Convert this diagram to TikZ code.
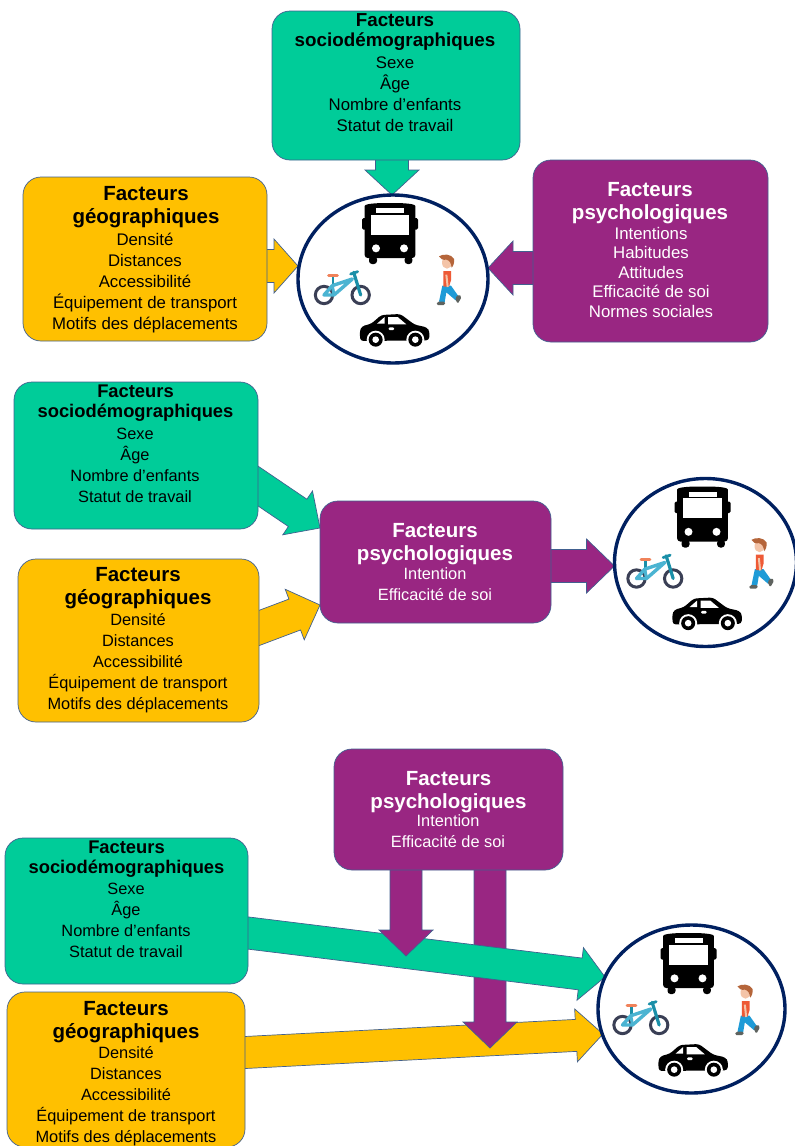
\documentclass[tikz,border=0pt]{standalone}
\usepackage{fontspec}
\setmainfont{Liberation Sans}
\usetikzlibrary{calc,fit,shapes.geometric}
\definecolor{cgreen}{HTML}{00CC99}
\definecolor{cyellow}{HTML}{FFC000}
\definecolor{cpurple}{HTML}{992682}
\definecolor{cedge}{HTML}{41608F}
\definecolor{cnavy}{HTML}{002060}
\definecolor{bikewheel}{HTML}{3A3F55}
\definecolor{bikeframe}{HTML}{4BB4D2}
\definecolor{biketeal}{HTML}{1A8FA8}
\definecolor{bikeseat}{HTML}{F0825A}
\definecolor{skin}{HTML}{F4C4A8}
\definecolor{shirt}{HTML}{EE5A36}
\definecolor{jeans}{HTML}{1E9BD7}
\definecolor{shoe}{HTML}{5F635F}
\definecolor{hair}{HTML}{B5653A}
\pgfdeclarelayer{arrowlayer}
\pgfsetlayers{arrowlayer,main}
\tikzset{
  factorbox/.style={draw=cedge,line width=.7pt,rounded corners=18pt,inner sep=0pt,outer sep=0pt},
  modecircle/.style={ellipse,draw=cnavy,fill=white,line width=3.4pt,minimum width=188pt,minimum height=165pt,inner sep=0pt,outer sep=0pt},
  flow/.style={draw=cedge,line width=.7pt,line join=miter},
  titlea/.style={font=\fontsize{18.8}{20}\selectfont\bfseries,align=center,inner sep=0pt},
  titlec/.style={font=\fontsize{18.35}{20}\selectfont\bfseries,align=center,inner sep=0pt},
  titleb/.style={font=\fontsize{20.5}{23}\selectfont\bfseries,align=center,inner sep=0pt},
  bodytext/.style={font=\fontsize{16.8}{21}\selectfont,align=center,inner sep=0pt},
  bodysmall/.style={font=\fontsize{16.35}{21}\selectfont,align=center,inner sep=0pt},
}
\newcommand{\barrow}[6]{%
  \begin{pgfonlayer}{arrowlayer}
  \coordinate (hb) at ($(#2)!#6pt!(#1)$);
  \coordinate (bs) at ($(#1)!-25pt!(#2)$);
  \draw[flow,fill=#3] ($(bs)!#4pt!90:(#2)$) -- ($(hb)!#4pt!90:(#2)$) -- ($(hb)!#5pt!90:(#2)$)
    -- (#2) -- ($(hb)!#5pt!-90:(#2)$) -- ($(hb)!#4pt!-90:(#2)$) -- ($(bs)!#4pt!-90:(#2)$) -- cycle;
  \end{pgfonlayer}
}
\newcommand{\modeicons}[1]{%
  \begin{scope}[shift={(#1)},scale=1/3,shift={(-370,-388)}]
    % bus
    \fill[black,rounded corners=3pt] (285,325) -- (285,178) .. controls (285,165) and (300,160) .. (361,160) .. controls (422,160) and (437,165) .. (437,178) -- (437,325) -- cycle;
    \fill[black,rounded corners=1.5pt] (277,205) rectangle (290,240);
    \fill[black,rounded corners=1.5pt] (432,205) rectangle (445,240);
    \fill[black,rounded corners=3pt] (298,320) rectangle (322,343);
    \fill[black,rounded corners=3pt] (405,320) rectangle (428,343);
    \fill[white] (303,195) rectangle (418,255);
    \fill[white] (320,175) rectangle (403,190);
    \fill[white] (319,296) circle (12);
    \fill[white] (403,296) circle (12);
    % bike
    \draw[bikewheel,line width=3pt] (163,436) circle (26);
    \draw[bikewheel,line width=3pt] (273,436) circle (26);
    \draw[biketeal,line width=2.6pt] (190,380) -- (190,408);
    \draw[bikeframe,line width=3.4pt,line join=round] (163,436) -- (188,408) -- (248,388) -- (193,436) -- cycle;
    \draw[bikeframe,line width=3pt] (188,408) -- (193,436);
    \draw[biketeal,line width=3.2pt,line cap=round] (252,368) -- (273,436);
    \draw[biketeal,line width=2.8pt,line cap=round] (243,373) -- (264,366);
    \draw[bikeseat,line width=3pt,line cap=round] (177,378) -- (203,378);
    % walker
    \fill[jeans] (518,408) -- (544,408) -- (568,442) -- (558,452) -- (530,428) -- (525,458) -- (508,456) -- cycle;
    \fill[shirt] (521,364) -- (544,364) -- (544,392) -- (538,411) -- (521,411) -- cycle;
    \draw[skin,line width=2pt] (530,375) -- (534,412);
    \fill[shoe,rounded corners=1.5pt] (500,466) -- (503,456) -- (527,456) -- (526,466) -- cycle;
    \fill[shoe,rounded corners=1.5pt] (556,445) -- (568,434) -- (576,442) -- (564,463) -- cycle;
    \fill[skin] (532,339) circle [x radius=15,y radius=18];
    \fill[hair] (508,320) .. controls (520,312) and (545,312) .. (553,328) .. controls (555,340) and (550,350) .. (546,354) .. controls (544,340) and (540,332) .. (530,330) .. controls (520,332) and (512,328) .. (508,320) -- cycle;
    % car
    \fill[black,rounded corners=3pt] (272,574) -- (270,545) -- (276,530) -- (305,522) -- (335,496) -- (392,493) -- (435,525) -- (472,533) -- (480,546) -- (478,572) -- cycle;
    \fill[white] (322,522) -- (345,502) -- (345,522) -- cycle;
    \fill[white] (355,502) -- (384,502) -- (410,524) -- (355,524) -- cycle;
    \fill[white,rounded corners=1pt] (357,533) rectangle (373,541);
    \foreach \wx in {318,437}{
      \fill[white] (\wx,570) circle (27);
    }
    \fill[white] (270,576) rectangle (480,600);
    \foreach \wx in {318,437}{
      \fill[black] (\wx,570) circle (21);
      \fill[white] (\wx,570) circle (10);
    }
  \end{scope}
}
\begin{document}
\begin{tikzpicture}[x=1pt,y=-1pt]
\useasboundingbox (0,0) rectangle (795,1146);
% ---------- first group
\node[factorbox,fill=cgreen,fit={(272,11)(520,160)}] (s1) {};
\node[factorbox,fill=cyellow,fit={(23,177)(267,341)}] (g1) {};
\node[factorbox,fill=cpurple,fit={(533,160)(768,342)}] (p1) {};
\node[modecircle,minimum width=190pt,minimum height=168pt] (c1) at (393,279) {};
\modeicons{c1.center}
\coordinate (a1s) at (392,0 |- s1.south);
\coordinate (a1e) at (392,0 |- c1.north);
\coordinate (a2s) at (g1.east |- 0,266);
\coordinate (a2e) at (c1.west |- 0,266);
\coordinate (a3s) at (p1.west |- 0,268);
\coordinate (a3e) at (c1.east |- 0,268);
\barrow{a1s}{a1e}{cgreen}{16.5}{27}{25}
\barrow{a2s}{a2e}{cyellow}{16.5}{27}{24}
\barrow{a3s}{a3e}{cpurple}{16.5}{27}{25}
\node[titlea] (s1t) at (395,32) {Facteurs\\sociodémographiques};
\node[bodytext] (s1b) at (395,94.5) {Sexe\\Âge\\Nombre d’enfants\\Statut de travail};
\node[titleb] (g1t) at (146,207.5) {Facteurs\\géographiques};
\node[bodytext] (g1b) at (145,283) {Densité\\Distances\\Accessibilité\\Équipement de transport\\Motifs des déplacements};
\node[titleb,white] (p1t) at (650,203.5) {Facteurs\\psychologiques};
\node[bodytext,white,font=\fontsize{16.8}{19.5}\selectfont] (p1b) at (651,272) {Intentions\\Habitudes\\Attitudes\\Efficacité de soi\\Normes sociales};
% ---------- second group
\node[factorbox,fill=cgreen,fit={(14,382)(258,529)}] (s2) {};
\node[factorbox,fill=cyellow,fit={(18,559)(259,722)}] (g2) {};
\node[factorbox,fill=cpurple,fit={(320,501)(551,623)}] (p2) {};
\node[modecircle,minimum width=182pt,minimum height=168pt] (c2) at (705.5,562.5) {};
\modeicons{c2.center}
\coordinate (a4s) at (s2.east |- 0,486);
\coordinate (a4e) at (p2.west |- 0,528);
\coordinate (a5s) at (g2.east |- 0,628);
\coordinate (a5e) at (p2.west |- 0,605);
\coordinate (a6s) at (p2.east |- 0,566);
\coordinate (a6e) at (c2.west |- 0,566);
\barrow{a4s}{a4e}{cgreen}{16.5}{26.5}{27}
\barrow{a5s}{a5e}{cyellow}{16.5}{27}{27}
\barrow{a6s}{a6e}{cpurple}{16.5}{27}{28}
\node[titlec] (s2t) at (135.5,403.5) {Facteurs\\sociodémographiques};
\node[bodysmall] (s2b) at (135,465.5) {Sexe\\Âge\\Nombre d’enfants\\Statut de travail};
\node[titleb] (g2t) at (138,588.5) {Facteurs\\géographiques};
\node[bodysmall] (g2b) at (138,663.5) {Densité\\Distances\\Accessibilité\\Équipement de transport\\Motifs des déplacements};
\node[titleb,white] (p2t) at (435,544.5) {Facteurs\\psychologiques};
\node[bodysmall,white] (p2b) at (435,584) {Intention\\Efficacité de soi};
% ---------- third group
\node[factorbox,fill=cgreen,fit={(5,838)(248,984)}] (s3) {};
\node[factorbox,fill=cyellow,fit={(7,992)(245,1147)}] (g3) {};
\node[factorbox,fill=cpurple,fit={(334,749)(563,870)}] (p3) {};
\node[modecircle,minimum width=187pt,minimum height=168pt] (c3) at (691.5,1009) {};
\modeicons{c3.center}
\coordinate (a7s) at (s3.east |- 0,933);
\coordinate (a7e) at (605,977);
\coordinate (a8s) at (g3.east |- 0,1052.5);
\coordinate (a8e) at (603,1034);
\coordinate (a9s) at (406,870);
\coordinate (a9e) at (406,956);
\coordinate (a10s) at (490,870);
\coordinate (a10e) at (490,1048);
\barrow{a8s}{a8e}{cyellow}{16}{26.5}{27}
\barrow{a10s}{a10e}{cpurple}{16}{27}{26}
\barrow{a7s}{a7e}{cgreen}{16}{26.5}{25}
\barrow{a9s}{a9e}{cpurple}{16}{27}{26}
\node[titlec] (s3t) at (126.5,859.5) {Facteurs\\sociodémographiques};
\node[bodysmall] (s3b) at (126,920) {Sexe\\Âge\\Nombre d’enfants\\Statut de travail};
\node[titleb] (g3t) at (126,1022.5) {Facteurs\\géographiques};
\node[bodysmall] (g3b) at (126,1096) {Densité\\Distances\\Accessibilité\\Équipement de transport\\Motifs des déplacements};
\node[titleb,white] (p3t) at (448.5,792.5) {Facteurs\\psychologiques};
\node[bodysmall,white] (p3b) at (448,831) {Intention\\Efficacité de soi};
\end{tikzpicture}
\end{document}
